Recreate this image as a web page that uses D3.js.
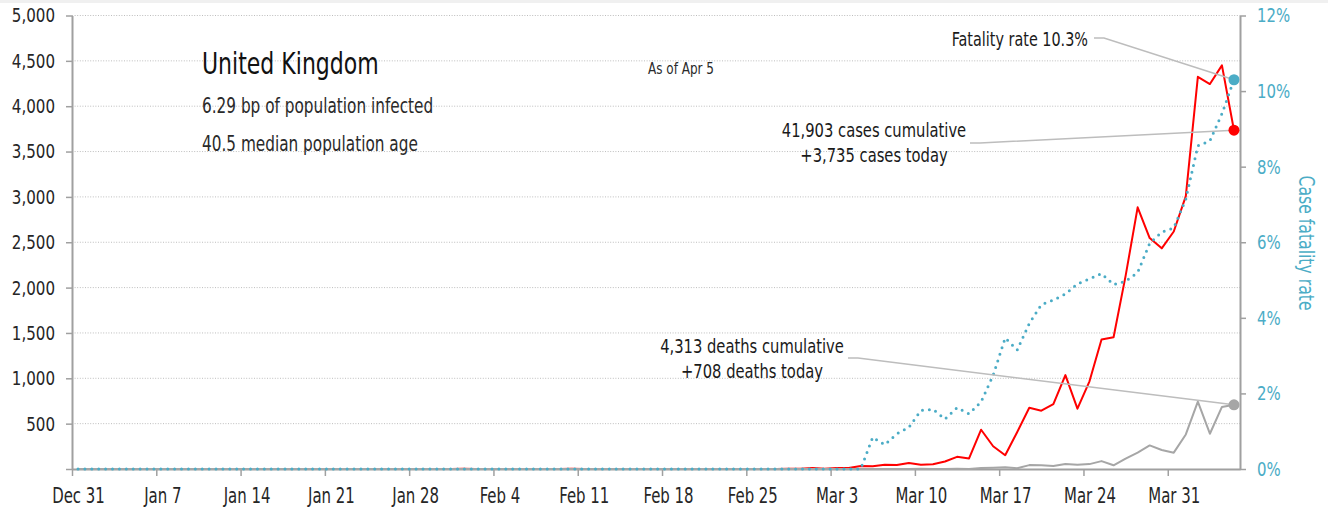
<!DOCTYPE html>
<html>
<head>
<meta charset="utf-8">
<script src="https://cdn.jsdelivr.net/npm/d3@7"></script>
<style>
  body { margin: 0; background: #fff; }
  svg { display: block; font-family: "Liberation Sans Narrow", "Arial Narrow", "DejaVu Sans Condensed", sans-serif; }
</style>
</head>
<body>
<svg id="chart" width="1328" height="510"></svg>
<script>
// daily series, one value per day starting Dec 31 2019
const firstDay = "2019-12-31";

const cases = [
  0, 0, 0, 0, 0, 0, 0,
  0, 0, 0, 0, 0, 0, 0,
  0, 0, 0, 0, 0, 0, 0,
  0, 0, 0, 0, 0, 0, 0,
  0, 0, 0, 0, 2, 0, 0,
  0, 0, 1, 0, 0, 0, 4,
  0, 1, 0, 0, 0, 0, 0,
  0, 0, 0, 0, 0, 0, 0,
  0, 0, 0, 4, 3, 12, 4,
  12, 11, 34, 30, 48, 43, 67,
  48, 52, 83, 134, 117, 433, 251,
  152, 407, 676, 643, 714, 1035, 665,
  967, 1427, 1452, 2129, 2885, 2546, 2433,
  2619, 3009, 4324, 4244, 4450, 3735
];

const deaths = [
  0, 0, 0, 0, 0, 0, 0,
  0, 0, 0, 0, 0, 0, 0,
  0, 0, 0, 0, 0, 0, 0,
  0, 0, 0, 0, 0, 0, 0,
  0, 0, 0, 0, 0, 0, 0,
  0, 0, 0, 0, 0, 0, 0,
  0, 0, 0, 0, 0, 0, 0,
  0, 0, 0, 0, 0, 0, 0,
  0, 0, 0, 0, 0, 0, 0,
  0, 0, 0, 1, 0, 1, 1,
  2, 1, 0, 4, 1, 10, 14,
  19, 8, 43, 41, 33, 56, 48,
  54, 87, 41, 115, 181, 260, 209,
  180, 381, 743, 389, 684, 708
];

// case fatality rate, %
const fatalityRate = [
  0, 0, 0, 0, 0, 0, 0,
  0, 0, 0, 0, 0, 0, 0,
  0, 0, 0, 0, 0, 0, 0,
  0, 0, 0, 0, 0, 0, 0,
  0, 0, 0, 0, 0, 0, 0,
  0, 0, 0, 0, 0, 0, 0,
  0, 0, 0, 0, 0, 0, 0,
  0, 0, 0, 0, 0, 0, 0,
  0, 0, 0, 0, 0, 0, 0,
  0, 0, 0, 0.84, 0.64, 0.93, 1.10,
  1.55, 1.58, 1.32, 1.62, 1.46, 1.78, 2.48,
  3.47, 3.15, 3.85, 4.35, 4.47, 4.63, 4.90,
  5.03, 5.17, 4.88, 4.97, 5.20, 5.97, 6.27,
  6.38, 7.14, 8.55, 8.68, 9.40, 10.30
];

const leftTicks = [0, 500, 1000, 1500, 2000, 2500, 3000, 3500, 4000, 4500, 5000];
const rightTicks = [0, 2, 4, 6, 8, 10, 12];
const weekTicks = ["2019-12-31", "2020-01-07", "2020-01-14", "2020-01-21", "2020-01-28",
  "2020-02-04", "2020-02-11", "2020-02-18", "2020-02-25", "2020-03-03",
  "2020-03-10", "2020-03-17", "2020-03-24", "2020-03-31"];
const weekLabels = ["Dec 31", "Jan 7", "Jan 14", "Jan 21", "Jan 28", "Feb 4", "Feb 11",
  "Feb 18", "Feb 25", "Mar 3", "Mar 10", "Mar 17", "Mar 24", "Mar 31"];

const country = "United Kingdom";
const infoLines = ["6.29 bp of population infected", "40.5 median population age"];
const asOf = "As of Apr 5";
const rateNote = "Fatality rate 10.3%";
const caseNote = ["41,903 cases cumulative", "+3,735 cases today"];
const deathNote = ["4,313 deaths cumulative", "+708 deaths today"];

const svg = d3.select("#chart");
const parse = d3.utcParse("%Y-%m-%d");
const start = parse(firstDay);
const days = cases.map((c, i) => d3.utcDay.offset(start, i));

const plotLeft = 72, plotRight = 1240, plotTop = 15.5, plotBottom = 469;

const x = d3.scaleUtc()
  .domain([start, d3.utcDay.offset(start, days.length)])
  .range([plotLeft, plotRight]);
const yL = d3.scaleLinear().domain([0, 5000]).range([plotBottom, plotTop]);
const yR = d3.scaleLinear().domain([0, 12]).range([plotBottom, plotTop]);
const px = i => x(d3.utcHour.offset(days[i], 12));

// the only condensed face here is DejaVu Sans Condensed, still wider than the original,
// so squeeze text horizontally around its anchor
function squeeze(sel, k) {
  sel.each(function () {
    const t = d3.select(this);
    const x0 = +t.attr("x") || 0, y0 = +t.attr("y") || 0;
    const prev = t.attr("transform") || "";
    t.attr("x", 0).attr("y", 0)
      .attr("transform", `${prev} translate(${x0},${y0}) scale(${k},1)`);
  });
}

svg.append("rect").attr("x", 0).attr("y", 0).attr("width", 1328).attr("height", 3).attr("fill", "#f0f0f0");

// grid
svg.append("g").selectAll("line")
  .data(leftTicks.filter(d => d > 0))
  .enter().append("line")
  .attr("x1", plotLeft).attr("x2", plotRight)
  .attr("y1", d => yL(d)).attr("y2", d => yL(d))
  .attr("stroke", "#bdbdbd").attr("stroke-width", 1)
  .attr("stroke-dasharray", "1,1.6");

// axes
const axisColor = "#a0a0a0";

const gl = svg.append("g").attr("transform", `translate(${plotLeft},0)`)
  .call(d3.axisLeft(yL).tickValues(leftTicks).tickSize(6).tickSizeOuter(0).tickPadding(11)
    .tickFormat(d => d === 0 ? "" : d3.format(",")(d)));

const gr = svg.append("g").attr("transform", `translate(${plotRight},0)`)
  .call(d3.axisRight(yR).tickValues(rightTicks).tickSize(6).tickSizeOuter(0).tickPadding(11)
    .tickFormat(d => d + "%"));

const gb = svg.append("g").attr("transform", `translate(0,${plotBottom})`)
  .call(d3.axisBottom(x).tickValues(weekTicks.map(parse)).tickSize(7).tickSizeOuter(0)
    .tickFormat((d, i) => weekLabels[i]));

[gl, gr, gb].forEach(g => {
  g.attr("font-family", null).attr("font-size", null);
  g.select(".domain").attr("stroke", axisColor).attr("stroke-width", 2);
  g.selectAll(".tick line").attr("stroke", axisColor).attr("stroke-width", 1.5);
  g.selectAll("text").attr("font-size", 20).attr("fill", "#262626");
});
gr.selectAll("text").attr("fill", "#4bacc6");
gb.selectAll("text").attr("x", 6).attr("y", 19).attr("font-size", 20.5);
squeeze(gl.selectAll("text"), 0.84);
squeeze(gr.selectAll("text"), 0.83);
squeeze(gb.selectAll("text"), 0.81);

svg.append("text")
  .attr("transform", "translate(1299,243) rotate(90) scale(0.85,1)")
  .attr("text-anchor", "middle")
  .attr("font-size", 20.5)
  .attr("fill", "#4bacc6")
  .text("Case fatality rate");

// lines
const idx = d3.range(days.length);

svg.append("path").datum(idx)
  .attr("fill", "none").attr("stroke", "#ff0000").attr("stroke-width", 2)
  .attr("stroke-linejoin", "round")
  .attr("d", d3.line().x(px).y(i => yL(cases[i])));

svg.append("path").datum(idx)
  .attr("fill", "none").attr("stroke", "#a6a6a6").attr("stroke-width", 2)
  .attr("stroke-linejoin", "round")
  .attr("d", d3.line().x(px).y(i => yL(deaths[i])));

svg.append("path").datum(idx)
  .attr("fill", "none").attr("stroke", "#4bacc6").attr("stroke-width", 3)
  .attr("stroke-linecap", "round").attr("stroke-dasharray", "0,6.9")
  .attr("d", d3.line().x(px).y(i => yR(fatalityRate[i])));

// annotations
const last = days.length - 1;
const lead = "#bdbdbd";
function leader(x0, y0, x1, y1) {
  svg.append("polyline")
    .attr("points", `${x0},${y0} ${x0 + 10},${y0} ${x1},${y1}`)
    .attr("fill", "none").attr("stroke", lead).attr("stroke-width", 1.5);
}

leader(1094, 38, px(last), yR(fatalityRate[last]));
leader(970, 143, px(last), yL(cases[last]));
leader(848, 358, px(last), yL(deaths[last]));

const notes = svg.append("g").attr("fill", "#1a1a1a").attr("font-size", 20);

notes.append("text").attr("x", 1088).attr("y", 46).attr("text-anchor", "end")
  .attr("font-size", 19.5).text(rateNote);

caseNote.forEach((t, i) => notes.append("text").attr("x", 874).attr("y", 137 + i * 25)
  .attr("text-anchor", "middle").text(t));

deathNote.forEach((t, i) => notes.append("text").attr("x", 752).attr("y", 353 + i * 25)
  .attr("text-anchor", "middle").text(t));

squeeze(notes.selectAll("text"), 0.82);

// end dots
[[yR(fatalityRate[last]), "#4bacc6"], [yL(cases[last]), "#ff0000"], [yL(deaths[last]), "#a6a6a6"]]
  .forEach(([cy, c]) => svg.append("circle").attr("cx", px(last)).attr("cy", cy).attr("r", 5.5).attr("fill", c));

// headings
const head = svg.append("g");
head.append("text").attr("x", 202).attr("y", 74).attr("font-size", 29.5).attr("fill", "#111").text(country);
squeeze(head.selectAll("text"), 0.83);

const info = svg.append("g");
infoLines.forEach((t, i) => info.append("text").attr("x", 202).attr("y", 113 + i * 38)
  .attr("font-size", 21).attr("fill", "#2a2a2a").text(t));
info.append("text").attr("x", 648).attr("y", 74).attr("font-size", 16.5).attr("fill", "#2a2a2a").text(asOf);
squeeze(info.selectAll("text"), 0.81);
</script>
</body>
</html>
